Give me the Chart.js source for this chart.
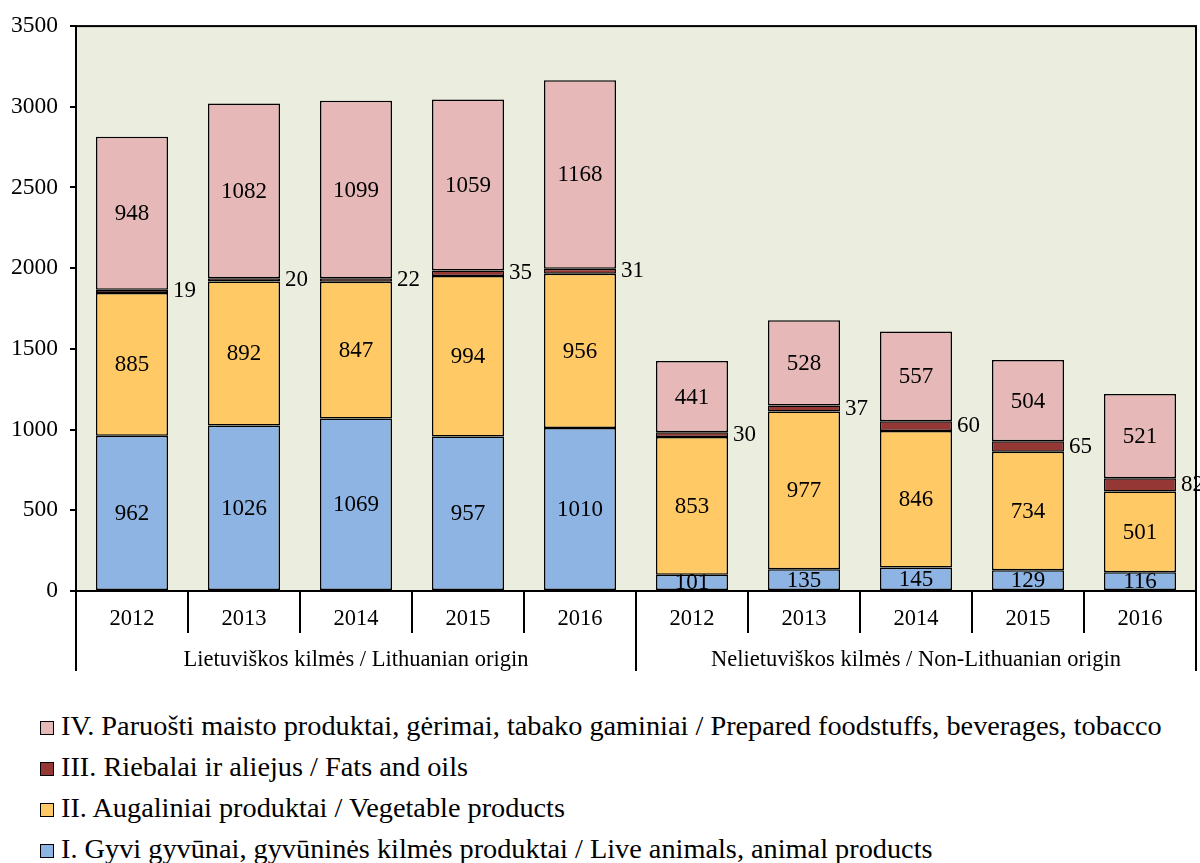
<!DOCTYPE html>
<html>
<head>
<meta charset="utf-8">
<script src="https://cdn.jsdelivr.net/npm/chart.js@4"></script>
<style>
  html, body { margin: 0; padding: 0; background: #fff; overflow: hidden; }
  #wrap { position: relative; width: 1200px; height: 690px; }
  #legend { margin: 0; padding: 15px 0 0 40px; font-family: "Liberation Serif", serif; font-size: 28.3px; color: #000; }
  #legend div { height: 41px; line-height: 41px; white-space: nowrap; }
  #legend span.box { display: inline-block; width: 14px; height: 14px; box-sizing: border-box; border: 1.5px solid #000; margin-right: 7px; vertical-align: 0px; }
</style>
</head>
<body>
<div id="wrap"><canvas id="chart" width="1200" height="690"></canvas></div>
<div id="legend"></div>
<script>
// Categories: two origin groups, five years each
const years = ['2012', '2013', '2014', '2015', '2016', '2012', '2013', '2014', '2015', '2016'];
const groups = ['Lietuviškos kilmės / Lithuanian origin', 'Nelietuviškos kilmės / Non-Lithuanian origin'];

// Series values (stacked, bottom to top)
const liveAnimals = [962, 1026, 1069, 957, 1010, 101, 135, 145, 129, 116];
const vegetable = [885, 892, 847, 994, 956, 853, 977, 846, 734, 501];
const fatsOils = [19, 20, 22, 35, 31, 30, 37, 60, 65, 82];
const prepared = [948, 1082, 1099, 1059, 1168, 441, 528, 557, 504, 521];

const seriesNames = [
  'I. Gyvi gyvūnai, gyvūninės kilmės produktai / Live animals, animal products',
  'II. Augaliniai produktai / Vegetable products',
  'III. Riebalai ir aliejus / Fats and oils',
  'IV. Paruošti maisto produktai, gėrimai, tabako gaminiai / Prepared foodstuffs, beverages, tobacco'
];
const colors = ['#8EB4E3', '#FFCA66', '#953735', '#E6B9B8'];

const yTicks = [0, 500, 1000, 1500, 2000, 2500, 3000, 3500];

const FONT = '"Liberation Serif", serif';

const frame = {
  id: 'frame',
  beforeDraw(chart) {
    const { ctx, chartArea: a } = chart;
    ctx.save();
    ctx.fillStyle = '#EBEEDF';
    ctx.fillRect(a.left, a.top, a.right - a.left, a.bottom - a.top);
    ctx.restore();
  },
  afterDraw(chart) {
    const { ctx, chartArea: a } = chart;
    const x = chart.scales.x;
    ctx.save();
    ctx.strokeStyle = '#000';
    ctx.lineWidth = 2;
    ctx.strokeRect(a.left, a.top, a.right - a.left, a.bottom - a.top);

    // separators between years
    ctx.beginPath();
    for (let i = 1; i < years.length; i++) {
      if (i === 5) continue;
      const px = (x.getPixelForValue(i - 1) + x.getPixelForValue(i)) / 2;
      ctx.moveTo(px, a.bottom);
      ctx.lineTo(px, a.bottom + 42);
    }
    // group separators
    const mid = (x.getPixelForValue(4) + x.getPixelForValue(5)) / 2;
    [a.left, mid, a.right].forEach(px => {
      ctx.moveTo(px, a.bottom);
      ctx.lineTo(px, a.bottom + 80);
    });
    ctx.stroke();

    // group labels
    ctx.fillStyle = '#000';
    ctx.font = '22.5px ' + FONT;
    ctx.textAlign = 'center';
    ctx.textBaseline = 'middle';
    ctx.fillText(groups[0], (a.left + mid) / 2, a.bottom + 69);
    ctx.fillText(groups[1], (mid + a.right) / 2, a.bottom + 69);
    ctx.restore();
  }
};

const barLabels = {
  id: 'barLabels',
  afterDatasetsDraw(chart) {
    const { ctx } = chart;
    ctx.save();
    ctx.fillStyle = '#000';
    ctx.font = '23px ' + FONT;
    ctx.textBaseline = 'middle';
    chart.data.datasets.forEach((ds, di) => {
      chart.getDatasetMeta(di).data.forEach((bar, i) => {
        const cy = (bar.y + bar.base) / 2;
        if (di === 2) {
          ctx.textAlign = 'left';
          ctx.fillText(ds.data[i], bar.x + bar.width / 2 + 5, cy);
        } else {
          ctx.textAlign = 'center';
          ctx.fillText(ds.data[i], bar.x, cy + 1);
        }
      });
    });
    ctx.restore();
  }
};

const seriesData = [liveAnimals, vegetable, fatsOils, prepared];

new Chart(document.getElementById('chart'), {
  type: 'bar',
  data: {
    labels: years,
    datasets: seriesData.map((d, i) => ({
      label: seriesNames[i],
      data: d,
      backgroundColor: colors[i],
      borderColor: '#000',
      borderWidth: 1.5,
      borderSkipped: false,
      barPercentage: 0.643,
      categoryPercentage: 1
    }))
  },
  options: {
    responsive: false,
    animation: false,
    layout: { padding: { top: 24, right: 4, left: 0, bottom: 0 } },
    plugins: { legend: { display: false }, tooltip: { enabled: false } },
    scales: {
      x: {
        stacked: true,
        grid: { display: false, drawTicks: false },
        border: { display: true, color: '#000', width: 2 },
        ticks: { color: '#000', font: { family: FONT, size: 22.5 }, padding: 15 },
        afterFit(scale) { scale.height = 99; }
      },
      y: {
        stacked: true,
        min: 0,
        max: 3500,
        afterBuildTicks(scale) { scale.ticks = yTicks.map(v => ({ value: v })); },
        grid: { drawOnChartArea: false, tickLength: 6, color: '#000', lineWidth: 2 },
        border: { display: true, color: '#000', width: 2 },
        ticks: {
          color: '#000',
          font: { family: FONT, size: 23.5 },
          padding: 12,
          callback: v => String(v)
        },
        afterFit(scale) { scale.width = 76; }
      }
    }
  },
  plugins: [frame, barLabels]
});

// Legend, top entry first
const legend = document.getElementById('legend');
for (let i = seriesNames.length - 1; i >= 0; i--) {
  const row = document.createElement('div');
  row.innerHTML = '<span class="box" style="background:' + colors[i] + '"></span>' + seriesNames[i];
  legend.appendChild(row);
}
</script>
</body>
</html>
